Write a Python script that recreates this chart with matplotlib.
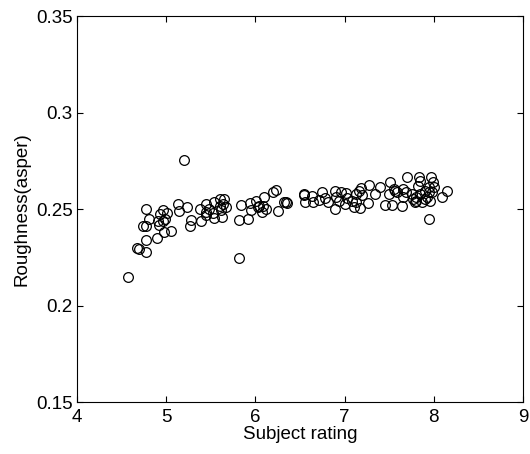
import numpy as np
import matplotlib.pyplot as plt

plt.rcParams['font.family'] = ['Liberation Sans', 'DejaVu Sans']

rating = [4.57, 4.67, 4.70, 4.78, 4.77, 4.90, 4.74, 4.78, 4.77, 4.81,
          4.92, 4.91, 4.93, 4.97, 4.99, 5.01, 4.97, 4.98, 5.06, 5.13,
          5.14, 5.23, 5.20, 5.28, 5.27, 5.39, 5.38, 5.45, 5.48, 5.45,
          5.52, 5.54, 5.54, 5.60, 5.64, 5.65, 5.67, 5.62, 5.63, 5.82,
          5.84, 5.82, 5.92, 5.94, 5.95, 6.01, 6.04, 6.07, 6.10, 6.12,
          6.03, 6.23, 6.20, 6.25, 6.32, 6.34, 6.35, 6.54, 6.56, 6.63,
          6.65, 6.71, 6.75, 6.78, 6.81, 6.89, 6.90, 6.89, 6.94, 7.02,
          7.00, 7.03, 7.08, 7.11, 7.13, 7.13, 7.17, 7.18, 7.20, 7.26,
          7.27, 7.34, 7.40, 7.45, 7.51, 7.50, 7.53, 7.56, 7.59, 7.64,
          7.65, 7.65, 7.70, 7.69, 7.75, 7.79, 7.80, 7.82, 7.83, 7.84,
          7.85, 7.87, 7.90, 7.92, 7.94, 7.95, 7.96, 7.97, 7.99, 8.00,
          7.98, 7.94, 8.09, 8.15, 7.77, 7.80, 7.90, 6.55, 6.96, 7.16,
          7.55, 5.45, 5.60, 6.09]
roughness = [0.2148, 0.2300, 0.2295, 0.2278, 0.2340, 0.2349, 0.2413, 0.2413, 0.2500, 0.2450,
             0.2417, 0.2440, 0.2477, 0.2495, 0.2450, 0.2480, 0.2440, 0.2380, 0.2387, 0.2526,
             0.2490, 0.2512, 0.2755, 0.2444, 0.2413, 0.2440, 0.2500, 0.2526, 0.2500, 0.2470,
             0.2480, 0.2538, 0.2453, 0.2552, 0.2526, 0.2552, 0.2509, 0.2495, 0.2457, 0.2444,
             0.2520, 0.2248, 0.2448, 0.2530, 0.2495, 0.2543, 0.2517, 0.2483, 0.2561, 0.2500,
             0.2509, 0.2600, 0.2587, 0.2488, 0.2535, 0.2535, 0.2530, 0.2578, 0.2535, 0.2566,
             0.2535, 0.2547, 0.2587, 0.2557, 0.2538, 0.2595, 0.2561, 0.2500, 0.2543, 0.2582,
             0.2526, 0.2556, 0.2543, 0.2512, 0.2578, 0.2535, 0.2503, 0.2609, 0.2573, 0.2531,
             0.2625, 0.2578, 0.2613, 0.2520, 0.2639, 0.2578, 0.2520, 0.2595, 0.2590, 0.2517,
             0.2604, 0.2561, 0.2668, 0.2590, 0.2578, 0.2535, 0.2561, 0.2622, 0.2665, 0.2578,
             0.2648, 0.2535, 0.2595, 0.2561, 0.2448, 0.2587, 0.2543, 0.2665, 0.2639, 0.2613,
             0.2590, 0.2613, 0.2561, 0.2595, 0.2552, 0.2543, 0.2552, 0.2573, 0.2587, 0.2595,
             0.2604, 0.2483, 0.2517, 0.2517]

fig = plt.figure(figsize=(5.30, 4.54), dpi=100)
ax = fig.add_axes([0.145, 0.1145, 0.842, 0.850])

ax.plot(rating, roughness, 'o', mfc='none', mec='black', ms=7, mew=0.9)

ax.set_xlim(4, 9)
ax.set_ylim(0.15, 0.35)
ax.set_xticks([4, 5, 6, 7, 8, 9])
ax.set_yticks([0.15, 0.2, 0.25, 0.3, 0.35])
ax.set_yticklabels(['0.15', '0.2', '0.25', '0.3', '0.35'])
ax.tick_params(direction='in', top=True, right=True, labelsize=13.5, length=4)
ax.tick_params(axis='x', pad=5)
ax.tick_params(axis='y', pad=3)
ax.set_xlabel('Subject rating', fontsize=13.5, labelpad=0)
ax.set_ylabel('Roughness(asper)', fontsize=13.5, labelpad=4)

fig.savefig('out.png', dpi=100)
